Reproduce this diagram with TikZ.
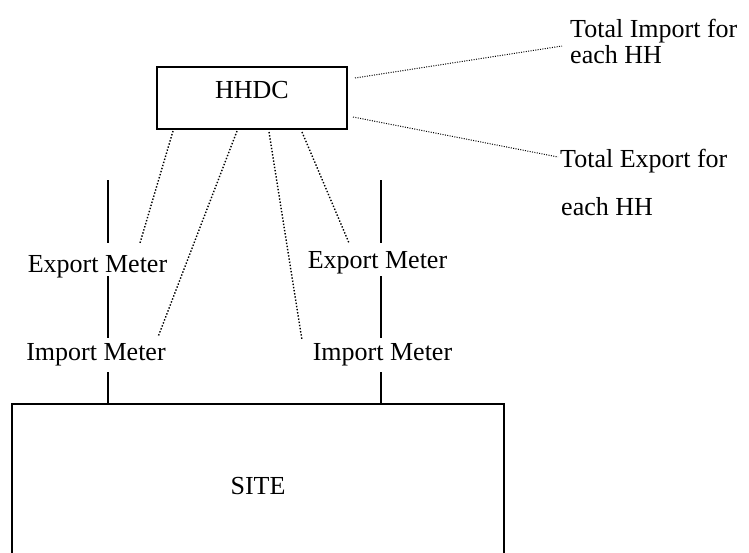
\documentclass[tikz,border=0pt]{standalone}
\usepackage{fontspec}
\setmainfont{Liberation Serif}
\begin{document}
\begin{tikzpicture}[x=1pt,y=-1pt,
  txt/.style={font=\fontsize{26}{26}\selectfont, inner sep=0pt},
  boxst/.style={draw, line width=1.6pt, rectangle, inner sep=0pt},
  wire/.style={line width=1.4pt},
  dots/.style={dash pattern=on 1.4pt off 1.8pt, line width=1.4pt},
  fdots/.style={dash pattern=on 1pt off 1.4pt, line width=1pt}]
\useasboundingbox (0,0) rectangle (749,552);
\clip (0,0) rectangle (749,552);
% boxes
\node[boxst, txt, minimum width=190pt, minimum height=62pt, text height=14pt, text depth=14pt] (hhdc) at (252,98) {HHDC};
\node[boxst, txt, minimum width=492pt, minimum height=156pt, text height=24pt, text depth=0pt] (site) at (258,482) {SITE};
% meter labels
\node[txt, anchor=base] (lexp) at (97.5,272) {Export Meter};
\node[txt, anchor=base] (limp) at (96,360) {Import Meter};
\node[txt, anchor=base] (rexp) at (377.5,268) {Export Meter};
\node[txt, anchor=base] (rimp) at (382.5,360) {Import Meter};
% right texts
\node[txt, anchor=base west] (ti1) at (570,37) {Total Import for};
\node[txt, anchor=base west] (ti2) at (570,63) {each HH};
\node[txt, anchor=base west] (te1) at (560,167) {Total Export for};
\node[txt, anchor=base west] (te2) at (561,215) {each HH};
% vertical wire coordinates
\coordinate (la) at (108,180);
\coordinate (lb) at (108,243);
\coordinate (lc) at (108,276);
\coordinate (ld) at (108,338);
\coordinate (le) at (108,372);
\coordinate (lf) at (108,404);
\coordinate (ra) at (381,180);
\coordinate (rb) at (381,243);
\coordinate (rc) at (381,276);
\coordinate (rd) at (381,338);
\coordinate (re) at (381,372);
\coordinate (rf) at (381,404);
\draw[wire] (la) -- (lb) (lc) -- (ld) (le) -- (lf);
\draw[wire] (ra) -- (rb) (rc) -- (rd) (re) -- (rf);
% dotted connectors
\coordinate (h1) at (173,131);
\coordinate (h2) at (237,131);
\coordinate (h3) at (269,132);
\coordinate (h4) at (302,132);
\coordinate (e1) at (140,243);
\coordinate (e2) at (158,337);
\coordinate (e3) at (302,340);
\coordinate (e4) at (349,243);
\coordinate (hr1) at (355,78);
\coordinate (hr2) at (353,117);
\coordinate (tie) at (562,46);
\coordinate (tee) at (558,157);
\draw[dots] (h1) -- (e1);
\draw[dots] (h2) -- (e2);
\draw[dots] (h3) -- (e3);
\draw[dots] (h4) -- (e4);
\draw[fdots] (hr1) -- (tie);
\draw[fdots] (hr2) -- (tee);
\end{tikzpicture}
\end{document}
